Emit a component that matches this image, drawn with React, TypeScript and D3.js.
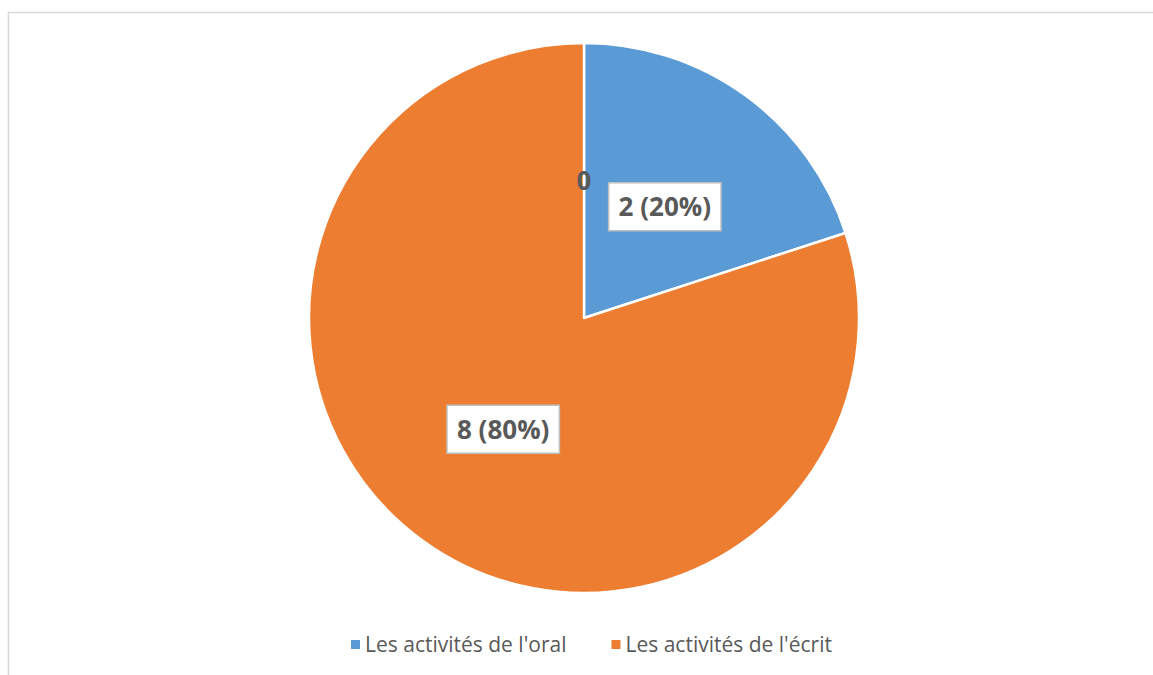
import React, { useEffect, useRef } from "react"
import * as d3 from "d3"

const categories = ["Les activités de l'oral", "Les activités de l'écrit", ""]
const values = [2, 8, 0]
const colors = ["#5B9BD5", "#ED7D31", "#A5A5A5"]
const legendItems = ["Les activités de l'oral", "Les activités de l'écrit"]

export default function App() {
  const ref = useRef<SVGSVGElement>(null)

  useEffect(() => {
    const cx = 584, cy = 318, r = 275
    const svg = d3.select(ref.current)
    svg.selectAll("*").remove()

    // chart frame (only top and left edges visible)
    svg.append("rect")
      .attr("x", 8.5).attr("y", 12.5)
      .attr("width", 1160).attr("height", 700)
      .attr("fill", "white")
      .attr("stroke", "#D9D9D9")
      .attr("stroke-width", 1.5)

    const data = categories.map((c, i) => ({ cat: c, val: values[i], i }))
    const totale = d3.sum(values)
    const pie = d3.pie<any>().value(d => d.val).sort(null).startAngle(0).endAngle(2 * Math.PI)
    const arcs = pie(data)
    const arc = d3.arc<any>().innerRadius(0).outerRadius(r)
    const labelArc = d3.arc<any>().innerRadius(r / 2).outerRadius(r / 2)

    const g = svg.append("g").attr("transform", `translate(${cx},${cy})`)

    g.selectAll("path")
      .data(arcs.filter(a => a.data.val > 0))
      .join("path")
      .attr("d", arc)
      .attr("fill", d => colors[d.data.i])
      .attr("stroke", "white")
      .attr("stroke-width", 2.5)
      .attr("stroke-linejoin", "round")

    // data labels
    arcs.forEach(a => {
      const [x, y] = labelArc.centroid(a)
      const txt = a.data.val === 0 ? "0" : `${a.data.val} (${Math.round(a.data.val / totale * 100)}%)`
      const lg = g.append("g").attr("transform", `translate(${x},${y})`)
      const t = lg.append("text")
        .attr("text-anchor", "middle")
        .attr("dy", "0.36em")
        .attr("font-family", "'Open Sans', sans-serif")
        .attr("font-weight", "bold")
        .attr("font-size", 26)
        .attr("fill", "#595959")
        .text(txt)
      if (a.data.val > 0) {
        const w = (t.node() as SVGTextElement).getComputedTextLength()
        lg.insert("rect", "text")
          .attr("x", -w / 2 - 10).attr("y", -24)
          .attr("width", w + 20).attr("height", 48)
          .attr("fill", "white")
          .attr("stroke", "#BFBFBF")
          .attr("stroke-width", 1.5)
      }
    })

    // legend
    const leg = svg.append("g").attr("transform", `translate(0,645)`)
    let xPos = 351
    legendItems.forEach((name, i) => {
      leg.append("rect")
        .attr("x", xPos).attr("y", -5)
        .attr("width", 9).attr("height", 9)
        .attr("fill", colors[i])
      const t = leg.append("text")
        .attr("x", xPos + 14)
        .attr("dy", "0.35em")
        .attr("font-family", "'Open Sans', sans-serif")
        .attr("font-size", 21)
        .attr("fill", "#595959")
        .text(name)
      const w = (t.node() as SVGTextElement).getComputedTextLength()
      xPos += 14 + w + 45
    })
  }, [])

  return (
    <div style={{ position: "absolute", left: 0, top: 0 }}>
      <svg ref={ref} width={1153} height={675} style={{ display: "block", background: "white" }}></svg>
    </div>
  )
}
